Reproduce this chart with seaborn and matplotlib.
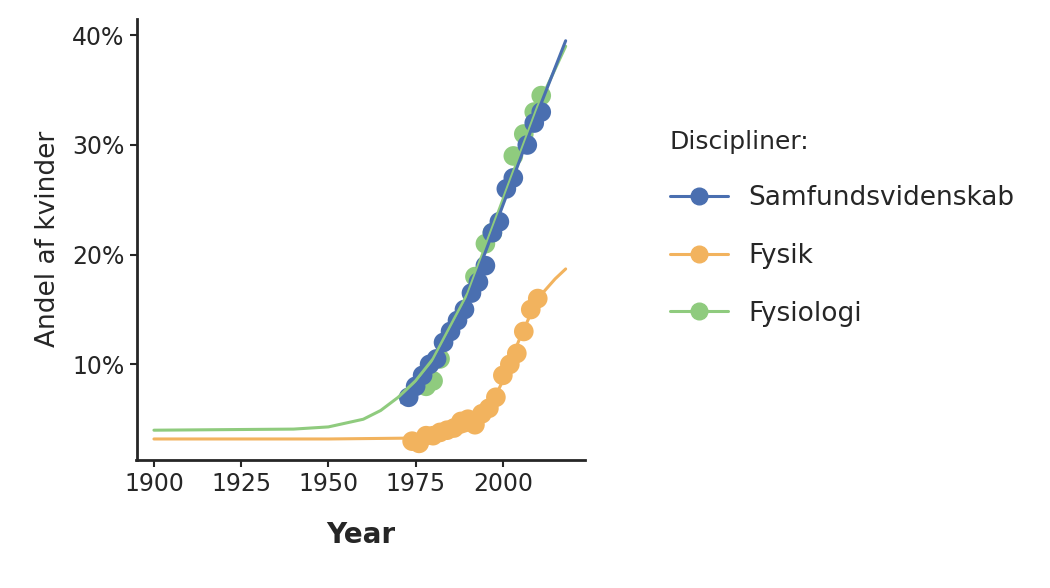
import matplotlib
matplotlib.use("Agg")
import matplotlib.pyplot as plt
from matplotlib.lines import Line2D
import pandas as pd
import seaborn as sns

# fitted curves (year, % women)
samf_line_x = [1971, 1980, 1990, 2000, 2010, 2018]
samf_line_y = [6.5, 10.0, 16.0, 24.5, 33.0, 39.5]
fys_line_x = [1900, 1950, 1980, 1985, 1990, 1995, 2000, 2005, 2010, 2015, 2018]
fys_line_y = [3.2, 3.2, 3.3, 3.5, 4.0, 5.3, 8.5, 12.5, 16.0, 17.8, 18.7]
fysio_line_x = [1900, 1940, 1950, 1960, 1965, 1970, 1975, 1980, 1990, 2000, 2010, 2018]
fysio_line_y = [4.0, 4.1, 4.3, 5.0, 5.8, 7.0, 8.5, 10.5, 16.5, 25.0, 33.5, 39.0]

# observed points
samf_x = [1973, 1975, 1977, 1979, 1981, 1983, 1985, 1987, 1989, 1991, 1993, 1995,
          1997, 1999, 2001, 2003, 2007, 2009, 2011]
samf_y = [7, 8, 9, 10, 10.5, 12, 13, 14, 15, 16.5, 17.5, 19, 22, 23, 26, 27, 30, 32, 33]
fys_x = [1974, 1976, 1978, 1980, 1982, 1984, 1986, 1988, 1990, 1992, 1994, 1996,
         1998, 2000, 2002, 2004, 2006, 2008, 2010]
fys_y = [3, 2.8, 3.5, 3.5, 3.8, 4, 4.2, 4.8, 5, 4.5, 5.5, 6, 7, 9, 10, 11, 13, 15, 16]
fysio_x = [1978, 1980, 1982, 1992, 1995, 1997, 2003, 2006, 2009, 2011]
fysio_y = [8, 8.5, 10.5, 18, 21, 22, 29, 31, 33, 34.5]

names = ["Samfundsvidenskab", "Fysik", "Fysiologi"]
colors = {"Samfundsvidenskab": "#4a6fb0", "Fysik": "#f2b35e", "Fysiologi": "#8fcb7e"}

lines = pd.concat([
    pd.DataFrame({"year": samf_line_x, "pct": samf_line_y, "disc": names[0]}),
    pd.DataFrame({"year": fys_line_x, "pct": fys_line_y, "disc": names[1]}),
    pd.DataFrame({"year": fysio_line_x, "pct": fysio_line_y, "disc": names[2]}),
])
pts = pd.concat([
    pd.DataFrame({"year": samf_x, "pct": samf_y, "disc": names[0]}),
    pd.DataFrame({"year": fys_x, "pct": fys_y, "disc": names[1]}),
    pd.DataFrame({"year": fysio_x, "pct": fysio_y, "disc": names[2]}),
])

sns.set_style("ticks")
fig = plt.figure(figsize=(10.5, 5.88), dpi=100)
ax = fig.add_axes([0.13, 0.218, 0.427, 0.75])

for d in [names[1], names[2], names[0]]:
    sub = pts[pts.disc == d]
    sns.scatterplot(data=sub, x="year", y="pct", color=colors[d], s=200,
                    edgecolor="none", ax=ax, zorder=3)
for d in [names[1], names[2], names[0]]:
    sub = lines[lines.disc == d]
    sns.lineplot(data=sub, x="year", y="pct", color=colors[d], lw=2.2, ax=ax, zorder=4)

ax.set_xlim(1895, 2023.5)
ax.set_ylim(1.3, 41.5)
ax.set_xticks([1900, 1925, 1950, 1975, 2000])
ax.set_yticks([10, 20, 30, 40])
ax.set_yticklabels(["10%", "20%", "30%", "40%"])
ax.tick_params(labelsize=17, width=1.5, length=5)
for s in ["left", "bottom"]:
    ax.spines[s].set_linewidth(2)
sns.despine(ax=ax)
ax.set_xlabel("Year", fontsize=20, fontweight="bold", labelpad=18)
ax.set_ylabel("Andel af kvinder", fontsize=19, labelpad=8)

handles = [Line2D([], [], color=colors[n], marker="o", markersize=12, lw=2.2) for n in names]
leg = fig.legend(handles, names, title="Discipliner:", loc="upper left",
                 bbox_to_anchor=(0.615, 0.82), frameon=False, fontsize=19,
                 title_fontsize=18, labelspacing=1.2, handlelength=2.2)
leg._legend_box.align = "left"

fig.savefig("out.png", dpi=100)
